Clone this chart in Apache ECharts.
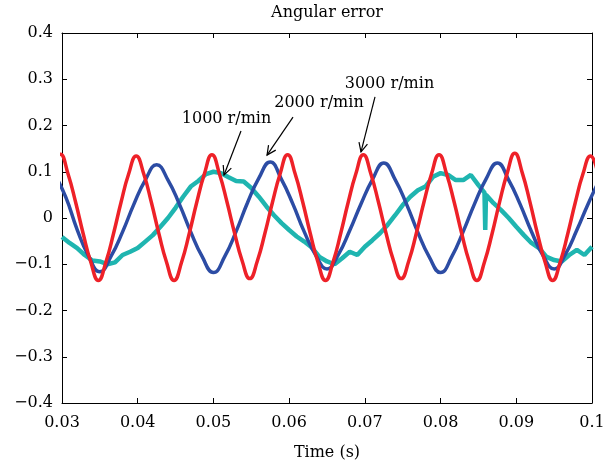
<!DOCTYPE html>
<html>
<head>
<meta charset="utf-8">
<script src="https://cdn.jsdelivr.net/npm/echarts@6/dist/echarts.min.js"></script>
<style>
html,body{margin:0;padding:0;background:#fff;}
#chart{width:610px;height:466px;}
</style>
</head>
<body>
<div id="chart"></div>
<script>
// ---- data ----
const chartTitle = 'Angular error';
const xAxisName = 'Time (s)';
const seriesNames = ['1000 r/min', '2000 r/min', '3000 r/min'];

// 3000 r/min (red): samples read at peak / trough aligned instants
const redTimes = [0.0288,0.0298,0.0308,0.0318,0.0328,0.0338,0.0348,0.0358,0.0368,0.0378,
  0.0388,0.0398,0.0408,0.0418,0.0428,0.0438,0.0448,0.0458,0.0468,0.0478,
  0.0488,0.0498,0.0508,0.0518,0.0528,0.0538,0.0548,0.0558,0.0568,0.0578,
  0.0588,0.0598,0.0608,0.0618,0.0628,0.0638,0.0648,0.0658,0.0668,0.0678,
  0.0688,0.0698,0.0708,0.0718,0.0728,0.0738,0.0748,0.0758,0.0768,0.0778,
  0.0788,0.0798,0.0808,0.0818,0.0828,0.0838,0.0848,0.0858,0.0868,0.0878,
  0.0888,0.0898,0.0908,0.0918,0.0928,0.0938,0.0948,0.0958,0.0968,0.0978,
  0.0988,0.0998,0.1008];
const red3000 = [0.095,0.138,0.095,0.034,-0.034,-0.095,-0.135,-0.095,-0.034,0.034,
  0.095,0.134,0.095,0.034,-0.034,-0.095,-0.135,-0.095,-0.034,0.034,
  0.095,0.137,0.095,0.034,-0.033,-0.093,-0.131,-0.093,-0.033,0.034,
  0.095,0.137,0.095,0.034,-0.034,-0.095,-0.135,-0.095,-0.034,0.034,
  0.095,0.137,0.095,0.034,-0.033,-0.093,-0.131,-0.093,-0.033,0.034,
  0.095,0.137,0.095,0.034,-0.034,-0.095,-0.135,-0.095,-0.034,0.035,
  0.097,0.140,0.097,0.035,-0.034,-0.095,-0.135,-0.095,-0.034,0.034,
  0.095,0.134,0.095];

// 2000 r/min (blue)
const blueTimes = [0.0290,0.0305,0.0320,0.0335,0.0350,0.0365,0.0380,0.0395,0.0410,0.0425,
  0.0440,0.0455,0.0470,0.0485,0.0500,0.0515,0.0530,0.0545,0.0560,0.0575,
  0.0590,0.0605,0.0620,0.0635,0.0650,0.0665,0.0680,0.0695,0.0710,0.0725,
  0.0740,0.0755,0.0770,0.0785,0.0800,0.0815,0.0830,0.0845,0.0860,0.0875,
  0.0890,0.0905,0.0920,0.0935,0.0950,0.0965,0.0980,0.0995,0.1010];
const blue2000 = [0.095,0.045,-0.025,-0.082,-0.116,-0.082,-0.030,0.030,0.082,0.115,
  0.082,0.030,-0.030,-0.083,-0.118,-0.083,-0.029,0.033,0.086,0.121,
  0.083,0.030,-0.030,-0.080,-0.110,-0.079,-0.027,0.031,0.083,0.119,
  0.083,0.030,-0.031,-0.084,-0.118,-0.083,-0.029,0.031,0.084,0.119,
  0.082,0.030,-0.029,-0.080,-0.110,-0.078,-0.026,0.031,0.083];

// 1000 r/min (cyan) – includes the glitch near 0.086 s
const cyanTimes = [0.030,0.031,0.032,0.033,0.034,0.035,0.036,0.037,0.038,0.039,
  0.040,0.041,0.042,0.043,0.044,0.045,0.046,0.047,0.048,0.049,
  0.050,0.051,0.052,0.053,0.054,0.055,0.056,0.057,0.058,0.059,
  0.060,0.061,0.062,0.063,0.064,0.065,0.066,0.067,0.068,0.069,
  0.070,0.071,0.072,0.073,0.074,0.075,0.076,0.077,0.078,0.079,
  0.080,0.081,0.082,0.083,0.084,0.085,0.0858,0.0859,0.0860,0.0861,
  0.087,0.088,0.089,0.090,0.091,0.092,0.093,0.094,0.095,0.096,0.097,0.098,0.099,0.100];
const cyan1000 = [-0.041,-0.054,-0.065,-0.080,-0.092,-0.094,-0.100,-0.096,-0.080,-0.073,
  -0.065,-0.051,-0.037,-0.019,0.000,0.022,0.046,0.068,0.080,0.095,
  0.100,0.097,0.088,0.080,0.079,0.065,0.046,0.025,0.006,-0.011,
  -0.026,-0.040,-0.051,-0.064,-0.084,-0.094,-0.100,-0.087,-0.073,-0.080,
  -0.062,-0.048,-0.033,-0.015,0.006,0.028,0.046,0.060,0.068,0.089,
  0.097,0.093,0.082,0.082,0.093,0.071,0.055,-0.026,0.050,0.048,
  0.032,0.017,0.000,-0.019,-0.037,-0.054,-0.065,-0.084,-0.091,-0.094,-0.080,-0.069,-0.080,-0.062];

const xMin = 0.03, xMax = 0.1, xStep = 0.01;
const yMin = -0.4, yMax = 0.4, yStep = 0.1;

// annotations (data coordinates)
const annotationLabels = ['1000 r/min', '2000 r/min', '3000 r/min'];
const annotationTextAt = [[0.05173, 0.214], [0.06394, 0.249], [0.07325, 0.290]];
const arrowFrom = [[0.05364, 0.188], [0.06051, 0.218], [0.07134, 0.262]];
const arrowTo = [[0.0514, 0.093], [0.05708, 0.136], [0.06949, 0.143]];

// ---- chart ----
const FONT = 'DejaVu Serif';
const FS = 16;
const pair = (ts, vs) => ts.map((t, i) => [t, vs[i]]);
const fmtX = v => String(parseFloat(v.toFixed(2)));
const fmtY = v => {
  const r = parseFloat(v.toFixed(1));
  if (r === 0) return '0';
  return r < 0 ? '\u2212' + Math.abs(r).toFixed(1) : r.toFixed(1);
};

const chart = echarts.init(document.getElementById('chart'), null, {renderer: 'canvas'});
const axisCommon = {
  type: 'value',
  axisLine: {show: true, onZero: false, lineStyle: {color: '#000', width: 1}},
  axisTick: {show: true, inside: true, length: 5, lineStyle: {color: '#000', width: 1}},
  splitLine: {show: false}
};
chart.setOption({
  animation: false,
  backgroundColor: '#fff',
  grid: {left: 62, right: 18, top: 33, bottom: 63, containLabel: false},
  xAxis: [
    Object.assign({}, axisCommon, {
      min: xMin, max: xMax, interval: xStep, position: 'bottom',
      axisLabel: {formatter: fmtX, color: '#000', fontFamily: FONT, fontSize: FS, margin: 12},
      name: xAxisName, nameLocation: 'middle', nameGap: 42,
      nameTextStyle: {color: '#000', fontFamily: FONT, fontSize: FS}
    }),
    Object.assign({}, axisCommon, {
      min: xMin, max: xMax, interval: xStep, position: 'top',
      axisLabel: {show: false}
    })
  ],
  yAxis: [
    Object.assign({}, axisCommon, {
      min: yMin, max: yMax, interval: yStep, position: 'left',
      axisLabel: {formatter: fmtY, color: '#000', fontFamily: FONT, fontSize: FS, margin: 9}
    }),
    Object.assign({}, axisCommon, {
      min: yMin, max: yMax, interval: yStep, position: 'right',
      axisLabel: {show: false}
    })
  ],
  series: [
    {name: seriesNames[0], type: 'line', data: pair(cyanTimes, cyan1000), showSymbol: false,
      smooth: false, clip: true, lineStyle: {color: '#1fb5b0', width: 4.5}, z: 2},
    {name: seriesNames[1], type: 'line', data: pair(blueTimes, blue2000), showSymbol: false,
      smooth: true, clip: true, lineStyle: {color: '#2c4ca4', width: 3.5}, z: 3},
    {name: seriesNames[2], type: 'line', data: pair(redTimes, red3000), showSymbol: false,
      smooth: true, clip: true, lineStyle: {color: '#ee2128', width: 3.5}, z: 4}
  ]
});

// annotations, title placed from axis/grid coordinates
const toPx = p => chart.convertToPixel({gridIndex: 0}, p);
const graphics = [];
const gTopLeft = toPx([xMin, yMax]);
const gTopRight = toPx([xMax, yMax]);
graphics.push({
  type: 'text', x: (gTopLeft[0] + gTopRight[0]) / 2, y: gTopLeft[1] - 20,
  style: {text: chartTitle, fill: '#000', font: FS + 'px "' + FONT + '"', textAlign: 'center', textVerticalAlign: 'middle'}
});
annotationLabels.forEach((lab, i) => {
  const tp = toPx(annotationTextAt[i]);
  const a = toPx(arrowFrom[i]);
  const b = toPx(arrowTo[i]);
  graphics.push({type: 'text', x: tp[0], y: tp[1], z: 10,
    style: {text: lab, fill: '#000', font: FS + 'px "' + FONT + '"', textAlign: 'center', textVerticalAlign: 'middle'}});
  graphics.push({type: 'line', z: 10, shape: {x1: a[0], y1: a[1], x2: b[0], y2: b[1]},
    style: {stroke: '#000', lineWidth: 1.2}});
  const ang = Math.atan2(b[1] - a[1], b[0] - a[0]);
  const L = 10, da = 0.45;
  const h1 = [b[0] - L * Math.cos(ang - da), b[1] - L * Math.sin(ang - da)];
  const h2 = [b[0] - L * Math.cos(ang + da), b[1] - L * Math.sin(ang + da)];
  graphics.push({type: 'polyline', z: 10, shape: {points: [h1, b, h2]},
    style: {stroke: '#000', lineWidth: 1.2, fill: null}});
});
chart.setOption({graphic: graphics});
</script>
</body>
</html>
